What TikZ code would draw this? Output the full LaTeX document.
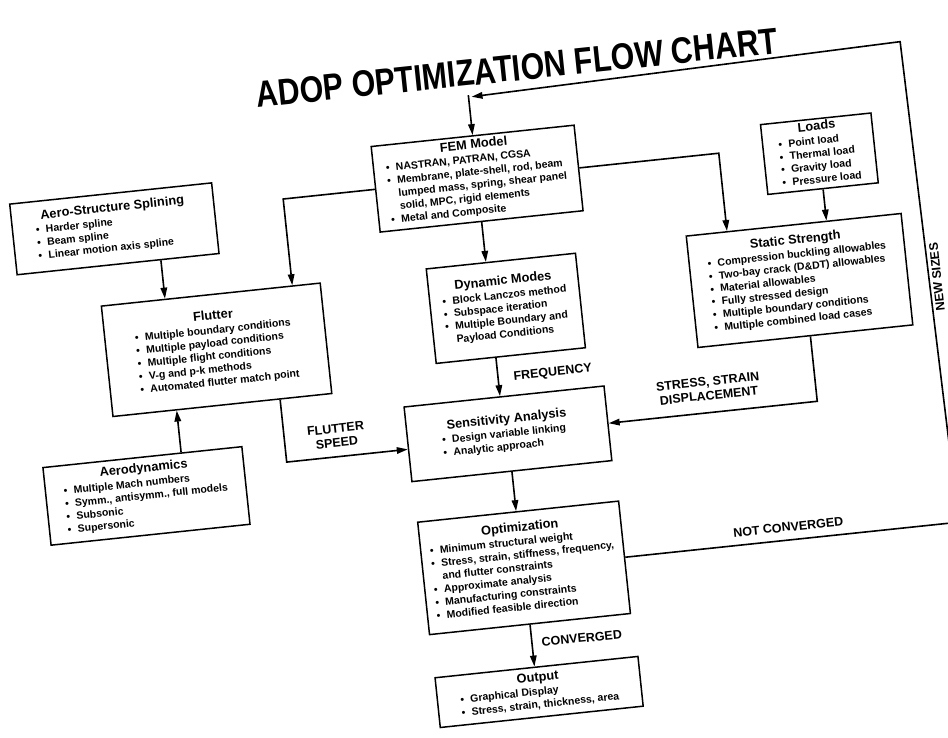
\documentclass[tikz,border=0pt]{standalone}
\usepackage{fontspec}
\setmainfont{Liberation Sans}
\usetikzlibrary{arrows.meta}

% box contents: a centred heading over a left-aligned bullet list
\newcommand\bul{\makebox[10pt][l]{\textbullet}}
\newcommand\hd[1]{\multicolumn{1}{c}{\fontsize{12.8}{15}\selectfont #1}\\[1pt]}
\newcommand\itm[1]{\bul#1\\}
\newcommand\cnt[1]{\hspace{10pt}#1\\}
\newcommand\boxtext[2]{{\fontsize{10.5}{13}\selectfont\bfseries
  \begin{tabular}{@{}l@{}}\hd{#1}#2\end{tabular}}}

\begin{document}
\begin{tikzpicture}[x=1pt,y=-1pt,
  blk/.style={draw, line width=1.5pt, inner sep=2pt, fill=white, transform shape},
  lbl/.style={font=\fontsize{12.5}{14}\selectfont\bfseries, transform shape, inner sep=1pt},
  ln/.style={line width=1.6pt},
  ar/.style={line width=1.6pt, -{Triangle[length=11pt,width=6.5pt]}}]
\useasboundingbox (0,0) rectangle (948,738);
\fill[white] (0,0) rectangle (948,738);
\clip (0,0) rectangle (948,738);
\begin{scope}[rotate around={6:(474,369)}]

% title
\node[transform shape, font=\fontsize{37}{39}\selectfont\bfseries] (title) at (548,74)
  {\scalebox{0.82}[1]{ADOP OPTIMIZATION FLOW CHART}};

% blocks
\node[blk, minimum width=204pt, minimum height=86pt] (fem) at (497,180)
  {\boxtext{FEM Model}{\itm{NASTRAN, PATRAN, CGSA}\itm{Membrane, plate-shell, rod, beam}%
   \cnt{lumped mass, spring, shear panel}\cnt{solid, MPC, rigid elements}\itm{Metal and Composite}}};
\node[blk, minimum width=203pt, minimum height=71pt] (spl) at (131,192)
  {\boxtext{Aero-Structure Splining}{\itm{Harder spline}\itm{Beam spline}\itm{Linear motion axis spline}}};
\node[blk, minimum width=220pt, minimum height=111pt] (flut) at (220,323)
  {\boxtext{Flutter}{\itm{Multiple boundary conditions}\itm{Multiple payload conditions}%
   \itm{Multiple flight conditions}\itm{V-g and p-k methods}\itm{Automated flutter match point}}};
\node[blk, minimum width=200pt, minimum height=78pt] (aero) at (135,461)
  {\boxtext{Aerodynamics}{\itm{Multiple Mach numbers}\itm{Symm., antisymm., full models}%
   \itm{Subsonic}\itm{Supersonic}}};
\node[blk, minimum width=150pt, minimum height=95pt] (dyn) at (512,312)
  {\boxtext{Dynamic Modes}{\itm{Block Lanczos method}\itm{Subspace iteration}%
   \itm{Multiple Boundary and}\cnt{Payload Conditions}}};
\node[blk, minimum width=111pt, minimum height=62pt] (loads) at (840,191)
  {\boxtext{Loads}{\itm{Point load}\itm{Thermal load}\itm{Gravity load}\itm{Pressure load}}};
\node[blk, minimum width=216pt, minimum height=112pt] (stat) at (807,315)
  {\boxtext{Static Strength}{\itm{Compression buckling allowables}\itm{Two-bay crack (D\&DT) allowables}%
   \itm{Material allowables}\itm{Fully stressed design}\itm{Multiple boundary conditions}%
   \itm{Multiple combined load cases}}};
\node[blk, minimum width=201pt, minimum height=75pt] (sens) at (501,437)
  {\boxtext{Sensitivity Analysis}{\itm{Design variable linking}\itm{Analytic approach}}};
\node[blk, minimum width=202pt, minimum height=113pt] (opt) at (503,572)
  {\boxtext{Optimization}{\itm{Minimum structural weight}\itm{Stress, strain, stiffness, frequency,}%
   \cnt{and flutter constraints}\itm{Approximate analysis}\itm{Manufacturing constraints}%
   \itm{Modified feasible direction}}};
\node[blk, minimum width=204pt, minimum height=50pt] (out) at (505,697)
  {\boxtext{Output}{\itm{Graphical Display}\itm{Stress, strain, thickness, area}}};

% connector labels
\node[lbl] (lfreq) at (552,381) {FREQUENCY};
\node[lbl, align=center] (lstr) at (705,413) {STRESS, STRAIN\\DISPLACEMENT};
\node[lbl, align=center] (lfs) at (330,421) {FLUTTER\\SPEED};
\node[lbl] (lnc) at (770,559) {NOT CONVERGED};
\node[lbl] (lconv) at (553,648) {CONVERGED};
\node[lbl, rotate=90] (lns) at (944,326) {NEW SIZES};

% corner points of the connectors
\coordinate (cfl) at (302,180);
\coordinate (caero) at (174,0);
\coordinate (cst) at (740,180);
\coordinate (css) at (812,437);
\coordinate (cfs) at (278,442);
\coordinate (cnc) at (940,572);
\coordinate (ctop) at (932,88);
\coordinate (jtop) at (500,98);
\coordinate (jdown) at (497,96);

% connectors
\draw[ar] (fem.west) -- (cfl) -- (cfl |- flut.north);
\draw[ar] (spl.south -| caero) -- (flut.north -| caero);
\draw[ar] (aero.north -| caero) -- (flut.south -| caero);
\draw[ar] (fem.south) -- (fem.south |- dyn.north);
\draw[ar] (dyn.south -| fem.south) -- (sens.north -| fem.south);
\draw[ar] (fem.east) -- (cst) -- (cst |- stat.north);
\draw[ar] (loads.south) -- (loads.south |- stat.north);
\draw[ar] (stat.south -| css) -- (css) -- (css -| sens.east);
\draw[ar] (flut.south -| cfs) -- (cfs) -- (cfs -| sens.west);
\draw[ar] (sens.south) -- (sens.south |- opt.north);
\draw[ar] (opt.south) -- (opt.south |- out.north);
\draw[ar] (opt.east) -- (cnc) -- (ctop) -- (jtop);
\draw[ar] (jdown) -- (jdown |- fem.north);

\end{scope}
\end{tikzpicture}
\end{document}
